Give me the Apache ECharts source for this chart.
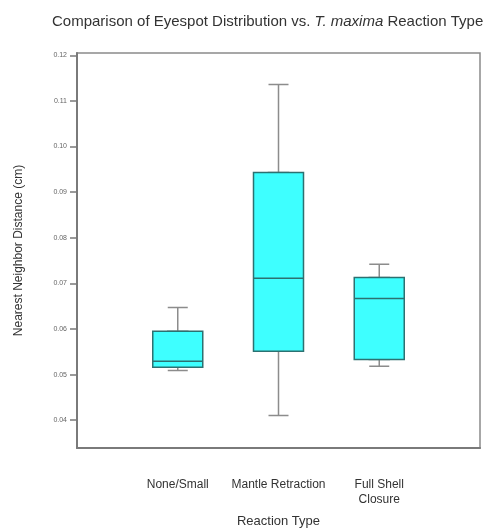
<!DOCTYPE html>
<html>
<head>
<meta charset="utf-8">
<script src="https://cdn.jsdelivr.net/npm/echarts@6/dist/echarts.min.js"></script>
<style>
  html, body { margin: 0; padding: 0; background: #fff; }
  #chart { width: 488px; height: 529px; }
</style>
</head>
<body>
<div id="chart"></div>
<script>
// reaction types (x positions 1..3 on a 0..4 axis)
const categories = ['None/Small', 'Mantle Retraction', 'Full Shell\nClosure'];
const whiskerLow = [0.0509, 0.0410, 0.0518];
const q1 = [0.0516, 0.0551, 0.0533];
const median = [0.0529, 0.0711, 0.0667];
const q3 = [0.0595, 0.0943, 0.0713];
const whiskerHigh = [0.0647, 0.1136, 0.0742];
const yTicks = [0.04, 0.05, 0.06, 0.07, 0.08, 0.09, 0.10, 0.11, 0.12];

const font = 'Liberation Sans, Arial, Helvetica, sans-serif';

// whiskers: full five numbers, narrow box hidden under the wide one
const whiskerData = categories.map((c, i) =>
  [i + 1, whiskerLow[i], q1[i], median[i], q3[i], whiskerHigh[i]]);
// boxes: whiskers collapsed onto the box edges
const boxData = categories.map((c, i) =>
  [i + 1, q1[i], q1[i], median[i], q3[i], q3[i]]);

const myChart = echarts.init(document.getElementById('chart'));
myChart.setOption({
  animation: false,
  title: {
    text: '{a|Comparison of Eyespot Distribution vs. }{b|T. maxima}{a| Reaction Type}',
    left: 47,
    top: 9,
    textStyle: {
      rich: {
        a: { fontFamily: font, fontSize: 15, color: '#333', fontWeight: 'normal' },
        b: { fontFamily: font, fontSize: 15, color: '#333', fontWeight: 'normal', fontStyle: 'italic' }
      }
    }
  },
  grid: {
    left: 77, right: 8, top: 53, bottom: 81,
    outerBoundsMode: 'none',
    show: true, borderColor: '#8a8a8a', borderWidth: 1.5
  },
  xAxis: [
    {
      type: 'value', min: 0, max: 4,
      name: 'Reaction Type',
      nameLocation: 'middle',
      nameGap: 67,
      nameTextStyle: { fontFamily: font, fontSize: 13, color: '#333' },
      axisLine: { show: true, lineStyle: { color: '#7a7a7a', width: 2 } },
      axisTick: { show: false },
      splitLine: { show: false },
      axisLabel: {
        customValues: [1, 2, 3],
        formatter: v => categories[Math.round(v) - 1] || '',
        margin: 29,
        fontFamily: font, fontSize: 12, color: '#333', lineHeight: 15
      }
    },
    { type: 'value', min: 0, max: 4, show: false }
  ],
  yAxis: {
    type: 'value',
    min: 0.0339,
    max: 0.1205,
    name: 'Nearest Neighbor Distance (cm)',
    nameLocation: 'middle',
    nameGap: 52,
    nameTextStyle: { fontFamily: font, fontSize: 12, color: '#333' },
    axisLine: { show: true, lineStyle: { color: '#7a7a7a', width: 2 } },
    axisTick: { show: true, customValues: yTicks, length: 7, lineStyle: { color: '#7a7a7a', width: 1.5 } },
    splitLine: { show: false },
    axisLabel: {
      customValues: yTicks,
      formatter: v => v.toFixed(2),
      margin: 10,
      fontFamily: font, fontSize: 7, color: '#666'
    }
  },
  series: [
    {
      type: 'boxplot',
      xAxisIndex: 0,
      boxWidth: [20, 20],
      data: whiskerData,
      itemStyle: { color: '#3effff', borderColor: '#8c8c8c', borderWidth: 1.5 },
      emphasis: { disabled: true },
      silent: true
    },
    {
      type: 'boxplot',
      xAxisIndex: 1,
      boxWidth: [50, 50],
      data: boxData,
      z: 3,
      itemStyle: { color: '#3effff', borderColor: '#2c7171', borderWidth: 1.5 },
      emphasis: { disabled: true },
      silent: true
    }
  ]
});
</script>
</body>
</html>
